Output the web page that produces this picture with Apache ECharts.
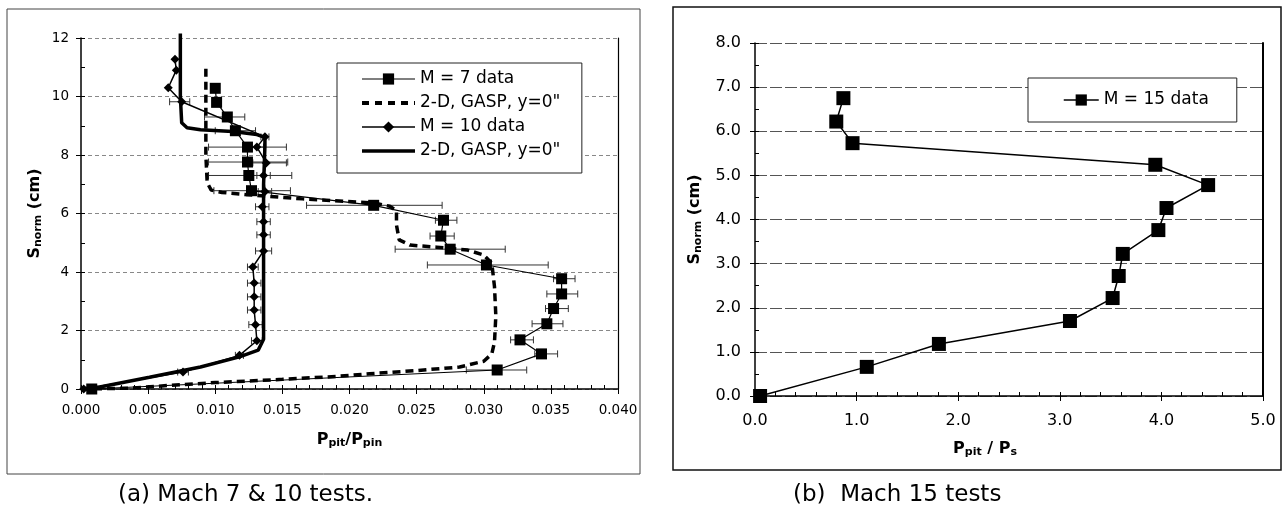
<!DOCTYPE html>
<html>
<head>
<meta charset="utf-8">
<script src="https://cdn.jsdelivr.net/npm/echarts@6/dist/echarts.min.js"></script>
<style>
html, body { margin: 0; padding: 0; background: #fff; }
#chart { width: 1283px; height: 516px; }
</style>
</head>
<body>
<div id="chart"></div>
<script>
// (a) Mach 7 & 10 tests
const m7X = [0.0008, 0.0310, 0.0343, 0.0327, 0.0347, 0.0352, 0.0358, 0.0358, 0.0302, 0.0275, 0.0268, 0.0270, 0.0218, 0.0127, 0.0125, 0.0124, 0.0124, 0.0115, 0.0109, 0.0101, 0.0100];
const m7Y = [0.00, 0.65, 1.20, 1.68, 2.23, 2.75, 3.25, 3.77, 4.24, 4.78, 5.23, 5.77, 6.28, 6.78, 7.30, 7.76, 8.27, 8.83, 9.30, 9.80, 10.28];
const m7Lo = [0.0008, 0.0287, 0.0338, 0.0320, 0.0336, 0.0346, 0.0347, 0.0352, 0.0258, 0.0234, 0.0260, 0.0264, 0.0168, 0.0099, 0.0095, 0.0095, 0.0095, 0.0100, 0.0092, 0.0101, 0.0100];
const m7Hi = [0.0008, 0.0332, 0.0355, 0.0337, 0.0359, 0.0363, 0.0370, 0.0368, 0.0348, 0.0316, 0.0278, 0.0280, 0.0269, 0.0156, 0.0157, 0.0154, 0.0153, 0.0130, 0.0122, 0.0101, 0.0100];

const gasp7X = [0.0000, 0.0037, 0.0065, 0.0100, 0.0150, 0.0190, 0.0215, 0.0250, 0.0282, 0.0300, 0.0306, 0.0308, 0.0309, 0.0308, 0.0306, 0.0300, 0.0288, 0.0265, 0.0245, 0.0237, 0.0235, 0.0235, 0.0230, 0.0218, 0.0165, 0.0130, 0.0105, 0.0097, 0.0094, 0.0093, 0.0093, 0.0093];
const gasp7Y = [0.00, 0.03, 0.12, 0.22, 0.33, 0.43, 0.52, 0.63, 0.75, 0.95, 1.20, 1.60, 2.50, 3.50, 4.30, 4.58, 4.75, 4.85, 4.92, 5.10, 5.60, 6.10, 6.25, 6.36, 6.50, 6.62, 6.72, 6.80, 7.05, 8.00, 9.50, 11.00];

const m10X = [0.0002, 0.0076, 0.0118, 0.0131, 0.0130, 0.0129, 0.0129, 0.0129, 0.0128, 0.0136, 0.0136, 0.0136, 0.0135, 0.0137, 0.0136, 0.0138, 0.0131, 0.0137, 0.0075, 0.0065, 0.0071, 0.0070];
const m10Y = [0.00, 0.58, 1.15, 1.65, 2.20, 2.70, 3.15, 3.62, 4.17, 4.72, 5.27, 5.72, 6.23, 6.75, 7.30, 7.73, 8.27, 8.62, 9.82, 10.30, 10.90, 11.27];
const m10Lo = [0.0002, 0.0072, 0.0115, 0.0127, 0.0125, 0.0124, 0.0124, 0.0124, 0.0124, 0.0130, 0.0131, 0.0131, 0.0130, 0.0132, 0.0131, 0.0128, 0.0126, 0.0134, 0.0066, 0.0065, 0.0071, 0.0070];
const m10Hi = [0.0002, 0.0080, 0.0121, 0.0135, 0.0135, 0.0134, 0.0134, 0.0134, 0.0132, 0.0142, 0.0141, 0.0141, 0.0140, 0.0142, 0.0141, 0.0153, 0.0136, 0.0140, 0.0081, 0.0065, 0.0071, 0.0070];

const gasp10X = [0.0000, 0.0014, 0.0051, 0.0089, 0.0118, 0.0132, 0.0136, 0.0136, 0.0136, 0.0136, 0.0137, 0.0137, 0.0131, 0.0113, 0.0089, 0.0079, 0.0075, 0.0074, 0.0074, 0.0074];
const gasp10Y = [0.00, 0.07, 0.40, 0.75, 1.10, 1.33, 1.70, 3.00, 5.00, 7.00, 8.30, 8.60, 8.70, 8.80, 8.86, 8.93, 9.10, 10.00, 11.00, 12.15];

// (b) Mach 15 tests
const m15X = [0.05, 1.10, 1.81, 3.10, 3.52, 3.58, 3.62, 3.97, 4.05, 4.46, 3.94, 0.96, 0.80, 0.87];
const m15Y = [0.00, 0.66, 1.18, 1.70, 2.22, 2.72, 3.22, 3.76, 4.26, 4.78, 5.24, 5.73, 6.22, 6.75];

const NAME_M7 = 'M = 7 data';
const NAME_G7 = '2-D, GASP, y=0"';
const NAME_M10 = 'M = 10 data';
const NAME_G10 = '2-D, GASP, y=0" ';   // trailing space keeps the two legend entries apart
const NAME_M15 = 'M = 15 data';

const FONT = 'DejaVu Sans';

function pairs(xs, ys) {
    return xs.map((x, i) => [x, ys[i]]);
}
function bars(lo, hi, ys) {
    return lo.map((l, i) => [l, hi[i], ys[i]]);
}

function renderErr(params, api) {
    let lo = api.value(0), hi = api.value(1), y = api.value(2);
    if (!(hi > lo)) return { type: 'group', children: [] };
    let a = api.coord([lo, y]);
    let b = api.coord([hi, y]);
    let s = { stroke: '#333', lineWidth: 1 };
    return {
        type: 'group',
        children: [
            { type: 'line', shape: { x1: a[0], y1: a[1], x2: b[0], y2: b[1] }, style: s },
            { type: 'line', shape: { x1: a[0], y1: a[1] - 3.5, x2: a[0], y2: a[1] + 3.5 }, style: s },
            { type: 'line', shape: { x1: b[0], y1: b[1] - 3.5, x2: b[0], y2: b[1] + 3.5 }, style: s }
        ]
    };
}

const nameRich = {
    m: { fontFamily: FONT, fontSize: 16, fontWeight: 'bold', color: '#000', lineHeight: 18 },
    s: { fontFamily: FONT, fontSize: 11, fontWeight: 'bold', color: '#000', lineHeight: 11, verticalAlign: 'bottom' }
};

function mainX(grid, min, max, step, digits, name, gap, pad) {
    return {
        gridIndex: grid, type: 'value', min: min, max: max, interval: step, position: 'bottom',
        axisLine: { onZero: false, lineStyle: { color: '#000', width: 1.5 } },
        axisTick: { length: 5, lineStyle: { color: '#000' } },
        axisLabel: { formatter: v => v.toFixed(digits), fontFamily: FONT, fontSize: grid === 0 ? 13.5 : 16, color: '#000', margin: grid === 0 ? 14 : 17 },
        splitLine: { show: false },
        name: name, nameLocation: 'middle', nameGap: gap,
        nameTextStyle: { rich: nameRich, padding: pad }
    };
}
function minorX(grid, min, max, step) {
    return {
        gridIndex: grid, type: 'value', min: min, max: max, interval: step, position: 'bottom',
        axisLine: { show: false, onZero: false },
        axisTick: { inside: true, length: 4, lineStyle: { color: '#000' } },
        axisLabel: { show: false }, splitLine: { show: false }
    };
}
function mainY(grid, min, max, step, digits, gap, split) {
    return {
        gridIndex: grid, type: 'value', min: min, max: max, interval: step, position: 'left',
        axisLine: { onZero: false, lineStyle: { color: '#000', width: 1.5 } },
        axisTick: { length: 5, lineStyle: { color: '#000' } },
        axisLabel: { formatter: v => v.toFixed(digits), fontFamily: FONT, fontSize: grid === 0 ? 13.5 : 16, color: '#000', margin: grid === 0 ? 12 : 14 },
        splitLine: { show: true, lineStyle: split },
        name: '{m|S}{s|norm}{m| (cm)}', nameLocation: 'middle', nameGap: gap,
        nameTextStyle: { rich: nameRich }
    };
}
function minorY(grid, min, max, step) {
    return {
        gridIndex: grid, type: 'value', min: min, max: max, interval: step, position: 'left',
        axisLine: { show: false, onZero: false },
        axisTick: { inside: true, length: 4, lineStyle: { color: '#000' } },
        axisLabel: { show: false }, splitLine: { show: false }
    };
}
function borderY(grid, min, max, width) {
    return {
        gridIndex: grid, type: 'value', min: min, max: max, position: 'right',
        axisLine: { show: true, onZero: false, lineStyle: { color: '#000', width: width } },
        axisTick: { show: false }, axisLabel: { show: false }, splitLine: { show: false }
    };
}

// legend entry for a curve without markers
const noMark = { color: 'rgba(0,0,0,0)', borderWidth: 0 };

let myChart = echarts.init(document.getElementById('chart'));

let option = {
    backgroundColor: '#fff',
    animation: false,
    grid: [
        { left: 81, top: 38, width: 537, height: 351 },
        { left: 755, top: 43, width: 508, height: 353 }
    ],
    xAxis: [
        mainX(0, 0, 0.04, 0.005, 3, '{m|P}{s|pit}{m|/P}{s|pin}', 42, 0),
        minorX(0, 0, 0.04, 0.001),
        mainX(1, 0, 5, 1, 1, '{m|P}{s|pit}{m| / P}{s|s}', 44, [0, 48, 0, 0]),
        minorX(1, 0, 5, 0.2)
    ],
    yAxis: [
        mainY(0, 0, 12, 2, 0, 37, { color: '#888', type: [4, 3], width: 1 }),
        minorY(0, 0, 12, 1),
        borderY(0, 0, 12, 1.2),
        mainY(1, 0, 8, 1, 1, 51, { color: '#555', type: [12, 3], width: 1 }),
        minorY(1, 0, 8, 0.5),
        borderY(1, 0, 8, 2)
    ],
    legend: [
        {
            left: 337, top: 63, orient: 'vertical',
            itemWidth: 53, itemHeight: 14, itemGap: 0,
            padding: [4, 16, 10, 23],
            borderColor: '#222', borderWidth: 1, backgroundColor: '#fff',
            selectedMode: false,
            textStyle: { fontFamily: FONT, fontSize: 17, color: '#000', lineHeight: 24 },
            data: [
                { name: NAME_M7, lineStyle: { width: 1.2, color: '#000' } },
                { name: NAME_G7, itemStyle: noMark, lineStyle: { width: 4, color: '#000', type: [7, 6] } },
                { name: NAME_M10, lineStyle: { width: 1.5, color: '#000' } },
                { name: NAME_G10, itemStyle: noMark, lineStyle: { width: 3.5, color: '#000' } }
            ]
        },
        {
            left: 1028, top: 78, orient: 'vertical',
            itemWidth: 35, itemHeight: 14, itemGap: 0,
            padding: [10, 28, 10, 35],
            borderColor: '#222', borderWidth: 1, backgroundColor: '#fff',
            selectedMode: false,
            textStyle: { fontFamily: FONT, fontSize: 17, color: '#000', lineHeight: 24 },
            data: [{ name: NAME_M15, lineStyle: { width: 1.5, color: '#000' } }]
        }
    ],
    graphic: [
        { type: 'rect', shape: { x: 7, y: 9, width: 633, height: 465 }, style: { fill: 'none', stroke: '#444', lineWidth: 1 }, z: 0, silent: true },
        { type: 'rect', shape: { x: 673, y: 7, width: 608, height: 463 }, style: { fill: 'none', stroke: '#111', lineWidth: 1.5 }, z: 0, silent: true },
        { type: 'text', left: 118, top: 484, style: { text: '(a) Mach 7 & 10 tests.', font: '23px "DejaVu Sans"', fill: '#000' } },
        { type: 'text', left: 793, top: 484, style: { text: '(b)  Mach 15 tests', font: '23px "DejaVu Sans"', fill: '#000' } }
    ],
    series: [
        {
            name: 'err7', type: 'custom', xAxisIndex: 0, yAxisIndex: 0, z: 1, silent: true,
            renderItem: renderErr, encode: { x: [0, 1], y: 2 },
            data: bars(m7Lo, m7Hi, m7Y)
        },
        {
            name: 'err10', type: 'custom', xAxisIndex: 0, yAxisIndex: 0, z: 1, silent: true,
            renderItem: renderErr, encode: { x: [0, 1], y: 2 },
            data: bars(m10Lo, m10Hi, m10Y)
        },
        {
            name: NAME_G7, type: 'line', xAxisIndex: 0, yAxisIndex: 0, z: 2,
            data: pairs(gasp7X, gasp7Y), symbol: 'none', clip: false,
            lineStyle: { color: '#000', width: 3.5, type: [8, 5] },
            itemStyle: { color: '#000' }
        },
        {
            name: NAME_G10, type: 'line', xAxisIndex: 0, yAxisIndex: 0, z: 2,
            data: pairs(gasp10X, gasp10Y), symbol: 'none', clip: false,
            lineStyle: { color: '#000', width: 3.5 },
            itemStyle: { color: '#000' }
        },
        {
            name: NAME_M7, type: 'line', xAxisIndex: 0, yAxisIndex: 0, z: 3,
            data: pairs(m7X, m7Y), symbol: 'rect', symbolSize: 11,
            lineStyle: { color: '#000', width: 1.2 },
            itemStyle: { color: '#000' }
        },
        {
            name: NAME_M10, type: 'line', xAxisIndex: 0, yAxisIndex: 0, z: 3,
            data: pairs(m10X, m10Y), symbol: 'diamond', symbolSize: 9,
            lineStyle: { color: '#000', width: 1.5 },
            itemStyle: { color: '#000' }
        },
        {
            name: NAME_M15, type: 'line', xAxisIndex: 2, yAxisIndex: 3, z: 3,
            data: pairs(m15X, m15Y), symbol: 'rect', symbolSize: 14,
            lineStyle: { color: '#000', width: 1.5 },
            itemStyle: { color: '#000' }
        }
    ]
};

myChart.setOption(option);
</script>
</body>
</html>
